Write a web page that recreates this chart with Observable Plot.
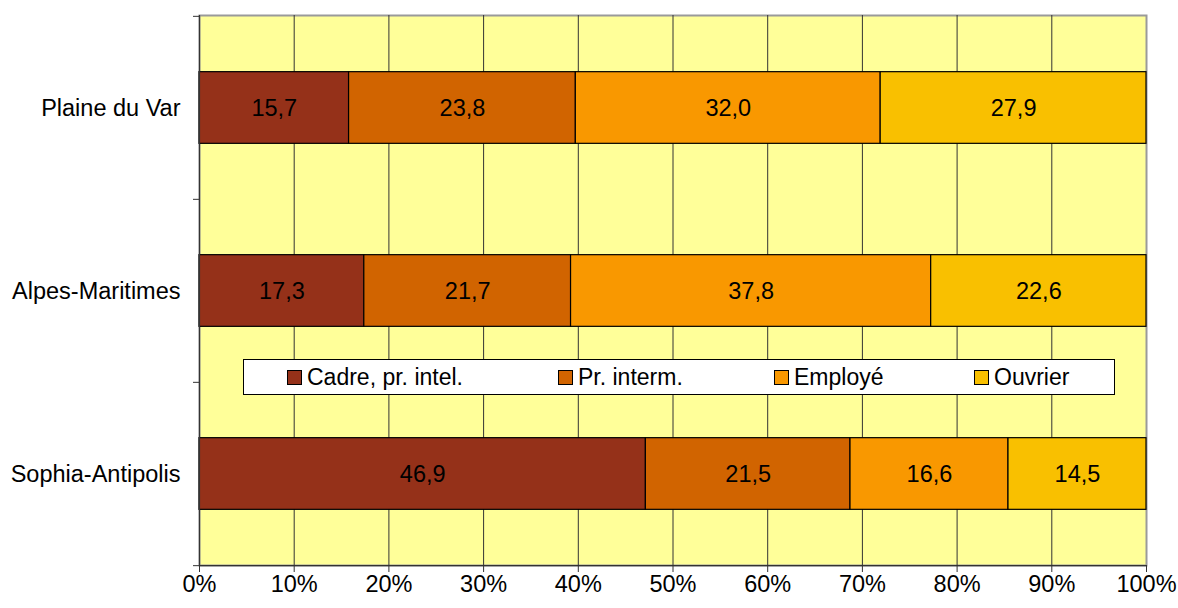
<!DOCTYPE html>
<html>
<head>
<meta charset="utf-8">
<script src="https://cdn.jsdelivr.net/npm/d3@7"></script>
<script src="https://cdn.jsdelivr.net/npm/@observablehq/plot@0.6"></script>
<style>
  html, body { margin: 0; padding: 0; background: #fff; }
  #wrap { position: relative; width: 1178px; height: 608px; font-family: "Liberation Sans", Arial, sans-serif; }
  #legend { position: absolute; left: 243px; top: 359px; width: 872px; height: 36px; background: #fff; border: 1px solid #000; box-sizing: border-box; }
  .item { position: absolute; top: 0; height: 34px; display: flex; align-items: center; font-size: 23px; color: #000; white-space: nowrap; }
  .sw { width: 13px; height: 13px; border: 1px solid #000; margin-right: 5px; }
</style>
</head>
<body>
<div id="wrap"></div>
<script>
const zones = ["Plaine du Var", "Alpes-Maritimes", "Sophia-Antipolis"];
const categories = ["Cadre, pr. intel.", "Pr. interm.", "Employé", "Ouvrier"];
const colors = ["#953119", "#D16400", "#F99800", "#F9C000"];
const plaineDuVar = [15.7, 23.8, 32.0, 27.9];
const alpesMaritimes = [17.3, 21.7, 37.8, 22.6];
const sophiaAntipolis = [46.9, 21.5, 16.6, 14.5];
const xTicks = [0, 0.1, 0.2, 0.3, 0.4, 0.5, 0.6, 0.7, 0.8, 0.9, 1];
const legendLeft = [43, 314, 530, 730];

const series = [plaineDuVar, alpesMaritimes, sophiaAntipolis];
const data = [];
zones.forEach((z, i) => categories.forEach((c, j) => data.push({zone: z, cat: c, value: series[i][j]})));

const W = 1178, H = 608, mL = 199, mR = 32, mT = 15, mB = 43;
const bw = (H - mT - mB) / zones.length;
const barH = 72;
const inset = (bw - barH) / 2;
const fs = 23.5;

const stackOpts = {y: "zone", x: "value", z: "cat", order: categories, offset: "normalize"};

const chart = Plot.plot({
  width: W, height: H,
  marginLeft: mL, marginRight: mR, marginTop: mT, marginBottom: mB,
  style: {fontFamily: "'Liberation Sans', Arial, sans-serif", fontSize: fs + "px", color: "#000", background: "transparent"},
  x: {domain: [0, 1], label: null},
  y: {domain: zones, padding: 0, label: null},
  color: {domain: categories, range: colors},
  marks: [
    Plot.frame({fill: "#FFFF99", stroke: "#9a9a9a", strokeWidth: 2}),
    Plot.gridX({ticks: xTicks.slice(1, -1), stroke: "#333", strokeOpacity: 1, strokeWidth: 1}),
    Plot.barX(data, Plot.stackX({...stackOpts, fill: "cat", stroke: "#000", strokeWidth: 1.2, insetTop: inset, insetBottom: inset})),
    Plot.text(data, Plot.stackX({...stackOpts, text: d => d.value.toFixed(1).replace(".", ","), fill: "#000", fontSize: fs})),
    Plot.ruleX([0], {stroke: "#333", strokeWidth: 1.2}),
    Plot.ruleY([0], {y: () => zones[zones.length - 1], dy: bw / 2, stroke: "#333", strokeWidth: 1.2}),
    Plot.axisX({ticks: xTicks, tickSize: 7, tickPadding: 3, tickFormat: d => Math.round(d * 100) + "%", fontSize: fs, stroke: "#333", label: null}),
    Plot.axisY({tickSize: 0, tickPadding: 19, fontSize: fs, label: null}),
    Plot.axisY({ticks: zones, tickSize: 6, tickFormat: null, dy: -bw / 2, stroke: "#333", label: null}),
    Plot.axisY({ticks: zones.slice(-1), tickSize: 6, tickFormat: null, dy: bw / 2, stroke: "#333", label: null})
  ]
});

const wrap = document.getElementById("wrap");
wrap.appendChild(chart);

const legend = document.createElement("div");
legend.id = "legend";
categories.forEach((c, i) => {
  const it = document.createElement("div");
  it.className = "item";
  it.style.left = legendLeft[i] + "px";
  const sw = document.createElement("span");
  sw.className = "sw";
  sw.style.background = colors[i];
  const t = document.createElement("span");
  t.textContent = c;
  it.appendChild(sw);
  it.appendChild(t);
  legend.appendChild(it);
});
wrap.appendChild(legend);
</script>
</body>
</html>
